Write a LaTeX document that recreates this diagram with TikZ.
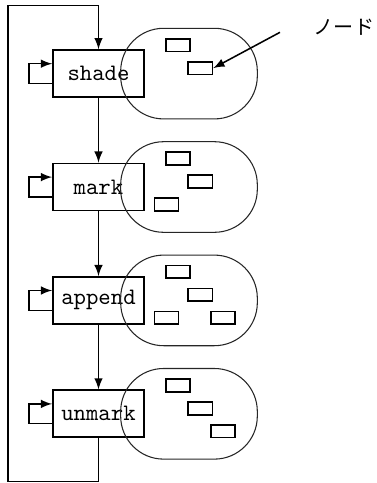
\documentclass[tikz,border=0pt]{standalone}
\usepackage{fontspec}
\newfontfamily\jpfont{Noto Sans CJK JP}
\usepackage{tikz}
\usetikzlibrary{arrows}
\def\px{0.4237pt}
\def\largeur{377}
\def\hauteur{483}

\tikzset{
	proc/.style={draw, line width=0.7pt, minimum width=38.6pt, minimum height=19.9pt, inner sep=0pt, font=\ttfamily},
	zone/.style={draw, line width=0.45pt, black!85, minimum width=57.9pt, minimum height=38.4pt, rounded corners=18.2pt, inner sep=0pt},
	cell/.style={draw, line width=0.7pt, minimum width=10.3pt, minimum height=5.4pt, inner sep=0pt},
	flow/.style={->, >=latex, line width=0.65pt}
}

\begin{document}
\begin{tikzpicture}[x=\px, y=-\px]
	\useasboundingbox (0,0) rectangle (\largeur,\hauteur);
	%\draw[step=10, black!20] (0,0) grid (\largeur,\hauteur);
	% les quatre etapes
	\foreach \nom/\i in {shade/0, mark/1, append/2, unmark/3}{
		\node[proc] (\nom) at (98.5,73.6+113.4*\i) {\nom};
		\node[zone] (z\i) at (189,73.6+113.4*\i) {};
		\draw[flow] ([yshift=-4.2pt]\nom.west) -- ++(-23,0) |- ([yshift=4.2pt]\nom.west);
	}
	% les cellules
	\foreach \i/\c/\dx/\dy in {0/a/-11/-28.5, 0/b/11.3/-5.5,
		1/a/-11/-28.5, 1/b/11.3/-5.5, 1/c/-22.5/17.3,
		2/a/-11/-28.5, 2/b/11.3/-5.5, 2/c/-22.5/17.3, 2/d/34/17.3,
		3/a/-11/-28.5, 3/b/11.3/-5.5, 3/d/34/17.3}
		\node[cell] (c\i\c) at (189+\dx,73.6+113.4*\i+\dy) {};
	% enchainement
	\draw[flow] (shade) -- (mark);
	\draw[flow] (mark) -- (append);
	\draw[flow] (append) -- (unmark);
	\coordinate (bas) at (8,481.7);
	\coordinate (haut) at (8,5.7);
	\draw[flow] (unmark.south) |- (bas) -- (haut) -| (shade.north);
	% legende
	\node[font=\jpfont\fontsize{8.5}{10}\selectfont] (noeud) at (344,27) {ノード};
	\coordinate (fleche) at (280,32.3);
	\draw[flow] (fleche) -- (c0b.east);
\end{tikzpicture}
\end{document}
